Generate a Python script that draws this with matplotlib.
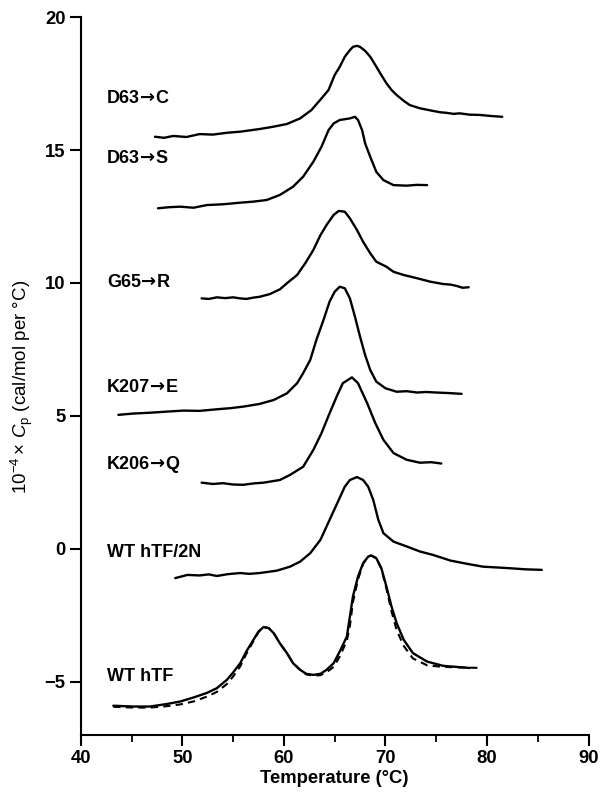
import numpy as np
import matplotlib
matplotlib.use("Agg")
import matplotlib.pyplot as plt
from matplotlib.ticker import MultipleLocator
from matplotlib.offsetbox import TextArea, HPacker, AnnotationBbox

plt.rcParams['font.family'] = ['Liberation Sans', 'DejaVu Sans']
plt.rcParams['mathtext.fontset'] = 'custom'
plt.rcParams['mathtext.rm'] = 'Liberation Sans'
plt.rcParams['mathtext.it'] = 'Liberation Sans:italic'

# Curves: temperature (°C) and 10^-4 x Cp
d63c_T = [47.3, 48.2, 49.1, 50.4, 51.7, 53.0, 54.4, 55.7, 57.6, 59.0, 60.3, 61.6, 62.7, 63.7, 64.4, 65.0, 65.5, 66.0,
          66.5, 66.8, 67.2, 67.5, 68.0, 68.5, 69.0, 69.5, 70.1, 70.6, 71.1, 71.8, 72.4, 73.4, 74.7, 75.4, 76.0, 76.7,
          77.3, 78.3, 79.3, 80.4, 81.5]
d63c_Cp = [15.50, 15.46, 15.53, 15.49, 15.60, 15.58, 15.65, 15.69, 15.79, 15.88, 15.98, 16.19, 16.50, 16.94, 17.26, 17.82,
           18.13, 18.51, 18.76, 18.88, 18.92, 18.88, 18.73, 18.51, 18.20, 17.88, 17.51, 17.26, 17.07, 16.85, 16.69, 16.57,
           16.47, 16.42, 16.40, 16.36, 16.38, 16.33, 16.32, 16.28, 16.25]

d63s_T = [47.6, 48.7, 49.8, 51.1, 52.4, 54.0, 55.7, 57.0, 58.3, 59.6, 60.9, 61.9, 62.9, 63.7, 64.4, 64.9, 65.5, 66.5,
          67.0, 67.3, 67.7, 68.0, 68.5, 69.1, 69.8, 70.8, 72.1, 73.1, 74.1]
d63s_Cp = [12.81, 12.85, 12.87, 12.83, 12.93, 12.96, 13.02, 13.06, 13.12, 13.31, 13.62, 14.00, 14.56, 15.12, 15.75, 16.00,
           16.13, 16.19, 16.25, 16.13, 15.75, 15.25, 14.75, 14.18, 13.87, 13.68, 13.66, 13.69, 13.68]

g65r_T = [51.9, 52.6, 53.4, 54.2, 55.0, 55.7, 56.3, 57.0, 57.6, 58.6, 59.6, 60.3, 61.3, 62.1, 62.9, 63.6, 64.2, 64.9,
          65.4, 66.0, 66.5, 67.2, 67.8, 68.5, 69.1, 70.1, 70.8, 71.8, 73.1, 74.4, 75.7, 76.4, 77.0, 77.6, 78.2]
g65r_Cp = [9.42, 9.40, 9.46, 9.43, 9.46, 9.42, 9.40, 9.45, 9.48, 9.58, 9.76, 9.99, 10.30, 10.74, 11.24, 11.80, 12.18,
           12.56, 12.71, 12.68, 12.43, 11.99, 11.55, 11.12, 10.80, 10.61, 10.42, 10.30, 10.18, 10.05, 9.96, 9.94, 9.89,
           9.82, 9.84]

k207e_T = [43.7, 45.2, 46.8, 48.4, 50.1, 51.7, 53.4, 54.7, 56.0, 57.6, 59.0, 60.3, 61.3, 61.9, 62.6, 63.2, 63.9, 64.5,
           65.0, 65.5, 66.0, 66.5, 67.0, 67.5, 68.0, 68.5, 69.1, 70.0, 71.1, 72.1, 73.1, 74.0, 75.0, 76.2, 77.5]
k207e_Cp = [5.04, 5.09, 5.12, 5.16, 5.20, 5.19, 5.25, 5.29, 5.35, 5.45, 5.60, 5.85, 6.23, 6.61, 7.11, 7.86, 8.61, 9.30,
            9.67, 9.86, 9.80, 9.42, 8.73, 7.98, 7.29, 6.73, 6.29, 6.04, 5.91, 5.93, 5.88, 5.90, 5.88, 5.86, 5.83]

k206q_T = [51.9, 53.0, 54.0, 55.0, 56.0, 57.0, 58.0, 59.6, 60.6, 61.9, 62.9, 63.7, 64.5, 65.2, 65.8, 66.7, 67.3, 68.2,
           69.0, 69.8, 70.8, 72.1, 73.4, 74.5, 75.5]
k206q_Cp = [2.49, 2.44, 2.47, 2.42, 2.41, 2.46, 2.49, 2.59, 2.78, 3.09, 3.72, 4.35, 5.10, 5.73, 6.23, 6.45, 6.23, 5.48,
            4.73, 4.10, 3.60, 3.35, 3.24, 3.26, 3.21]

wt2n_T = [49.3, 50.5, 51.7, 52.6, 53.4, 54.5, 55.7, 56.6, 57.6, 59.3, 60.6, 61.6, 62.6, 63.6, 64.5, 65.4, 66.0, 66.5,
          67.2, 67.8, 68.3, 68.8, 69.3, 69.8, 70.8, 72.1, 73.4, 74.7, 76.4, 78.0, 79.6, 81.0, 82.3, 83.8, 85.4]
wt2n_Cp = [-1.10, -0.98, -1.00, -0.96, -1.02, -0.95, -0.91, -0.94, -0.91, -0.82, -0.67, -0.48, -0.16, 0.34, 1.09, 1.84,
           2.34, 2.59, 2.70, 2.59, 2.34, 1.84, 1.09, 0.59, 0.27, 0.09, -0.10, -0.23, -0.44, -0.56, -0.67, -0.70, -0.73,
           -0.77, -0.79]

wt_T = [43.2, 45.2, 46.8, 48.4, 49.8, 51.1, 52.4, 53.4, 54.4, 55.0, 55.7, 56.3, 57.0, 57.5, 58.0, 58.5, 59.0, 59.6,
        60.3, 60.9, 61.6, 62.2, 62.9, 63.6, 64.2, 64.9, 65.5, 66.2, 66.8, 67.3, 67.8, 68.3, 68.6, 69.1, 69.6, 70.1,
        70.6, 71.1, 71.8, 72.7, 74.1, 75.7, 78.3]
wt_Cp = [-5.90, -5.93, -5.93, -5.84, -5.74, -5.59, -5.42, -5.24, -4.92, -4.65, -4.30, -3.86, -3.42, -3.11, -2.94, -2.98,
         -3.17, -3.55, -3.92, -4.30, -4.55, -4.70, -4.74, -4.70, -4.55, -4.30, -3.86, -3.30, -1.79, -1.04, -0.54, -0.29,
         -0.25, -0.35, -0.73, -1.42, -2.17, -2.79, -3.42, -3.92, -4.24, -4.40, -4.48]

fit_T = [43.2, 45.2, 46.8, 48.4, 49.8, 51.1, 52.4, 53.4, 54.4, 55.0, 55.7, 56.3, 57.0, 57.5, 58.0, 58.5, 59.0, 59.6,
         60.3, 60.9, 61.6, 62.2, 62.9, 63.6, 64.2, 64.9, 65.5, 66.2, 66.5, 66.8, 67.3, 67.8, 68.3, 68.6, 69.1, 69.6,
         70.1, 70.6, 71.1, 71.8, 72.7, 74.1, 75.7, 77.5, 79.5]
fit_Cp = [-5.94, -5.97, -5.97, -5.92, -5.85, -5.74, -5.56, -5.38, -5.08, -4.80, -4.42, -3.95, -3.47, -3.13, -2.94, -2.98,
          -3.17, -3.55, -3.92, -4.30, -4.55, -4.72, -4.77, -4.75, -4.64, -4.44, -4.05, -3.45, -2.90, -2.00, -1.15, -0.56,
          -0.29, -0.25, -0.35, -0.75, -1.50, -2.35, -3.05, -3.65, -4.12, -4.38, -4.44, -4.46, -4.48]

curve_names = ["D63\u2192C", "D63\u2192S", "G65\u2192R", "K207\u2192E", "K206\u2192Q", "WT hTF/2N", "WT hTF"]
label_y = [16.95, 14.70, 10.04, 6.09, 3.20, -0.15, -4.81]

fig = plt.figure(figsize=(6.03, 7.95), dpi=100)
ax = fig.add_axes([0.134, 0.0755, 0.842, 0.903])

for T, Cp in [(d63c_T, d63c_Cp), (d63s_T, d63s_Cp), (g65r_T, g65r_Cp), (k207e_T, k207e_Cp),
              (k206q_T, k206q_Cp), (wt2n_T, wt2n_Cp), (wt_T, wt_Cp)]:
    ax.plot(T, Cp, color='black', lw=1.7, solid_joinstyle='round', solid_capstyle='round')
ax.plot(fit_T, fit_Cp, color='black', lw=1.5, ls=(0, (3.5, 2.5)))

# curve labels; the arrow comes from DejaVu Sans, which draws it long and bold
txt = dict(fontsize=13, fontweight='bold', family='Liberation Sans')
arr = dict(fontsize=13, fontweight='bold', family='DejaVu Sans')
for name, y in zip(curve_names, label_y):
    if '\u2192' in name:
        a, b = name.split('\u2192')
        parts = [TextArea(a, textprops=txt), TextArea('\u2192', textprops=arr), TextArea(b, textprops=txt)]
    else:
        parts = [TextArea(name, textprops=txt)]
    box = HPacker(children=parts, align='baseline', pad=0, sep=0)
    ab = AnnotationBbox(box, (42.6, y), xycoords='data', box_alignment=(0, 0.5), frameon=False, pad=0)
    ax.add_artist(ab)

ax.set_xlim(40, 90)
ax.set_ylim(-7, 20)
ax.spines['top'].set_visible(False)
ax.spines['right'].set_visible(False)
ax.spines['left'].set_linewidth(1.5)
ax.spines['bottom'].set_linewidth(1.5)

ax.xaxis.set_major_locator(MultipleLocator(10))
ax.xaxis.set_minor_locator(MultipleLocator(5))
ax.tick_params(which='major', direction='out', length=8, width=1.5, labelsize=13.3, pad=3)
ax.tick_params(which='minor', direction='out', length=5, width=1.3)
ax.set_yticks([-5, 0, 5, 10, 15, 20])
ax.set_yticklabels(['\u22125', '0', '5', '10', '15', '20'])
for lab in ax.get_xticklabels() + ax.get_yticklabels():
    lab.set_fontweight('bold')

ax.set_xlabel("Temperature (\u00b0C)", fontsize=13.3, fontweight='bold', labelpad=2)
ax.set_ylabel(r"$10^{-4}\times\,C_{\mathrm{p}}$" + " (cal/mol per \u00b0C)", fontsize=13.5)
ax.yaxis.set_label_coords(-0.09, 0.485)

fig.savefig("out.png", dpi=100)
